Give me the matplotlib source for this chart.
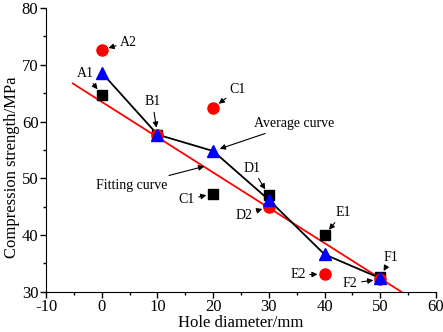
import matplotlib
matplotlib.use('Agg')
import matplotlib.pyplot as plt
from matplotlib.ticker import MultipleLocator

# hole diameter (mm) and compression strength (MPa)
hole = [0, 10, 20, 30, 40, 50]
group1 = [64.7, 57.7, 47.3, 47.0, 40.0, 32.6]   # black squares
group2 = [72.6, 57.7, 62.4, 45.0, 33.1, 32.2]   # red circles
average = [68.6, 57.7, 54.8, 46.2, 36.6, 32.4]  # blue triangles

fit_x = [-5.2, 53.8]
fit_y = [66.7, 30.0]

# label, series, index, text position (data coords), alignment
labels = [
    ('A2', 'g2', 0, (3.3, 74.0), 'left'),
    ('A1', 'g1', 0, (-3.0, 68.5), 'center'),
    ('B1', 'g1', 1, (9.1, 63.5), 'center'),
    ('C1', 'g2', 2, (23.0, 65.7), 'left'),
    ('C1', 'g1', 2, (15.2, 46.2), 'center'),
    ('D1', 'g1', 3, (27.0, 51.8), 'center'),
    ('D2', 'g2', 3, (25.5, 43.5), 'center'),
    ('E1', 'g1', 4, (43.4, 44.0), 'center'),
    ('E2', 'g2', 4, (35.2, 33.0), 'center'),
    ('F1', 'g1', 5, (52.0, 36.1), 'center'),
    ('F2', 'g2', 5, (44.6, 31.5), 'center'),
]

plt.rcParams['font.family'] = ['Liberation Serif', 'DejaVu Serif']
plt.rcParams['axes.unicode_minus'] = False

fig = plt.figure(figsize=(4.43, 3.32), dpi=100)
ax = fig.add_axes([0.104, 0.121, 0.88, 0.855])

ax.plot(fit_x, fit_y, color='red', lw=1.3, zorder=2)
ax.plot(hole, average, color='black', lw=1.3, zorder=2)
ax.plot(hole, group1, 's', color='black', ms=7, zorder=3)
ax.plot(hole, group2, 'o', color='red', ms=8, zorder=3)
ax.plot(hole, average, '^', color='blue', ms=9, zorder=4)

series = {'g1': group1, 'g2': group2}
arrow = dict(arrowstyle='-|>', color='black', lw=0.8, mutation_scale=8,
             shrinkA=1, shrinkB=5)
for text, s, i, pos, ha in labels:
    ax.annotate(text, xy=(hole[i], series[s][i]), xytext=pos,
                ha=ha, va='center', fontsize=10, arrowprops=arrow)

ax.annotate('Average curve', xy=(hole[2], average[2]), xytext=(27.3, 59.6),
            ha='left', va='center', fontsize=10, arrowprops=arrow)
ax.annotate('Fitting curve', xy=(18.4, 52.1), xytext=(11.8, 48.8),
            ha='right', va='center', fontsize=10,
            arrowprops=dict(arrowstyle='-|>', color='black', lw=0.8,
                            mutation_scale=8, shrinkA=1, shrinkB=0))

ax.set_xlim(-10, 60)
ax.set_ylim(30, 80)
ax.xaxis.set_major_locator(MultipleLocator(10))
ax.xaxis.set_minor_locator(MultipleLocator(5))
ax.yaxis.set_major_locator(MultipleLocator(10))
ax.yaxis.set_minor_locator(MultipleLocator(5))
ax.spines['top'].set_visible(False)
ax.spines['right'].set_visible(False)
ax.tick_params(which='major', direction='out', length=4, width=1,
               labelsize=12, pad=1.5)
ax.tick_params(which='minor', direction='out', length=2.5, width=1)

ax.set_xlabel('Hole diameter/mm', fontsize=12)
ax.set_ylabel('Compression strength/MPa', fontsize=12)
ax.xaxis.set_label_coords(0.5, -0.081)
ax.yaxis.set_label_coords(-0.068, 0.44)

fig.savefig('out.png', dpi=100)
